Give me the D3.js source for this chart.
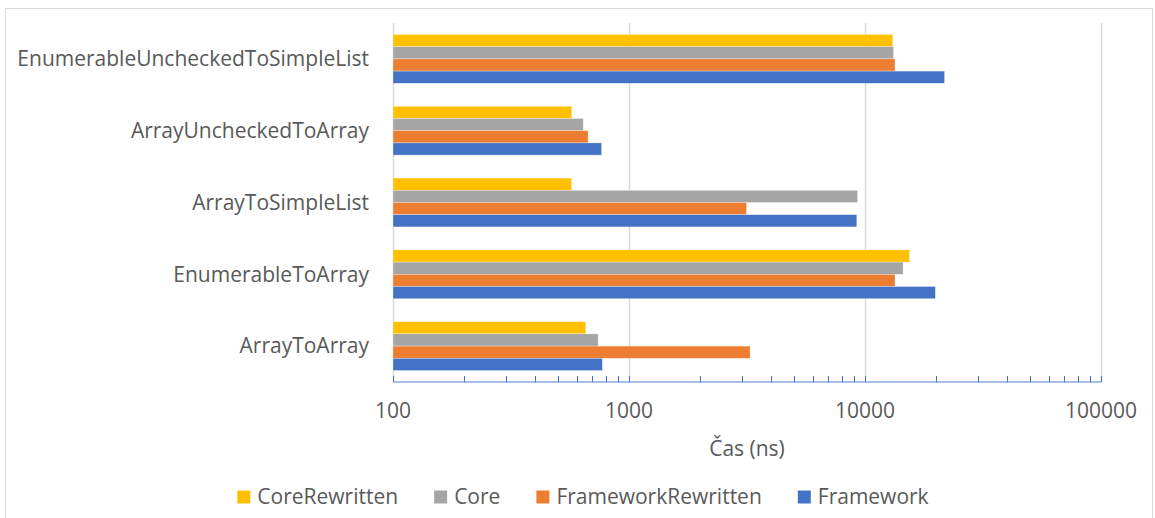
<!DOCTYPE html>
<html>
<head>
<meta charset="utf-8">
<script src="https://cdn.jsdelivr.net/npm/d3@7"></script>
<style>
  body { margin: 0; background: #fff; }
  text { font-family: "Open Sans", "Noto Sans", sans-serif; fill: #595959; }
</style>
</head>
<body>
<div id="chart"></div>
<script>
// chart values
var categories = ["EnumerableUncheckedToSimpleList", "ArrayUncheckedToArray", "ArrayToSimpleList", "EnumerableToArray", "ArrayToArray"];
var seriesNames = ["CoreRewritten", "Core", "FrameworkRewritten", "Framework"];
var seriesColors = ["#FFC000", "#A5A5A5", "#ED7D31", "#4472C4"];
var coreRewritten = [13110, 572, 571, 15450, 656];
var core = [13210, 640, 9300, 14500, 740];
var frameworkRewritten = [13400, 671, 3148, 13400, 3258];
var framework = [21730, 765, 9230, 19860, 771];
var xTicks = [100, 1000, 10000, 100000];
var xTitle = "Čas (ns)";

var svgWidth = 1155;
var svgHeight = 518;
var fontSize = "21px";

var margin = {
  top: 23,
  right: 54,
  bottom: 136,
  left: 393
};

var width = svgWidth - margin.left - margin.right;
var height = svgHeight - margin.top - margin.bottom;

var svg = d3.select("#chart")
  .append("svg")
  .attr("width", svgWidth)
  .attr("height", svgHeight);

// outer chart border
svg.append("rect")
  .attr("x", 5.5)
  .attr("y", 8.5)
  .attr("width", 1147)
  .attr("height", 520)
  .attr("fill", "none")
  .attr("stroke", "#d9d9d9");

var chartGroup = svg.append("g")
  .attr("transform", `translate(${margin.left}, ${margin.top})`);

var allSeries = [coreRewritten, core, frameworkRewritten, framework];

// scales
var xScale = d3.scaleLog()
  .domain([100, 100000])
  .range([0, width]);

var yScale = d3.scaleBand()
  .domain(categories)
  .range([0, height])
  .paddingInner(0.32)
  .paddingOuter(0.16);

var ySub = d3.scaleBand()
  .domain(seriesNames)
  .range([0, yScale.bandwidth()]);

// vertical gridlines
chartGroup.selectAll(".grid")
  .data(xTicks)
  .enter()
  .append("line")
  .attr("x1", d => Math.round(xScale(d)) + 0.5)
  .attr("x2", d => Math.round(xScale(d)) + 0.5)
  .attr("y1", 0)
  .attr("y2", height)
  .attr("stroke", "#d9d9d9")
  .attr("stroke-width", 1.5);

// bars
var groups = chartGroup.selectAll(".cat")
  .data(categories)
  .enter()
  .append("g")
  .attr("transform", d => `translate(0, ${yScale(d)})`);

groups.selectAll("rect")
  .data((d, i) => seriesNames.map((s, j) => ({ series: s, color: seriesColors[j], value: allSeries[j][i] })))
  .enter()
  .append("rect")
  .attr("x", 0)
  .attr("y", d => ySub(d.series))
  .attr("width", d => xScale(d.value))
  .attr("height", ySub.bandwidth())
  .attr("fill", d => d.color)
  .attr("stroke", "#ffffff")
  .attr("stroke-opacity", 0.5)
  .attr("stroke-width", 0.6);

// category labels
chartGroup.selectAll(".catLabel")
  .data(categories)
  .enter()
  .append("text")
  .attr("x", -24)
  .attr("y", d => yScale(d) + yScale.bandwidth() / 2)
  .attr("dy", "0.35em")
  .attr("text-anchor", "end")
  .style("font-size", fontSize)
  .text(d => d);

// bottom axis with minor ticks pointing up
var minorTicks = [];
for (var p = 100; p < 100000; p *= 10) {
  for (var m = 1; m < 10; m++) minorTicks.push(p * m);
}
minorTicks.push(100000);

var axisG = chartGroup.append("g")
  .attr("transform", `translate(0, ${height})`);

axisG.append("line")
  .attr("x1", 0)
  .attr("x2", width)
  .attr("y1", 0)
  .attr("y2", 0)
  .attr("stroke", "#8faadc")
  .attr("stroke-width", 1.5);

axisG.selectAll(".tick")
  .data(minorTicks)
  .enter()
  .append("line")
  .attr("x1", d => Math.round(xScale(d)) + 0.5)
  .attr("x2", d => Math.round(xScale(d)) + 0.5)
  .attr("y1", 0)
  .attr("y2", -6)
  .attr("stroke", "#4472c4")
  .attr("stroke-width", 1);

axisG.selectAll(".tickLabel")
  .data(xTicks)
  .enter()
  .append("text")
  .attr("x", d => xScale(d))
  .attr("y", 29)
  .attr("dy", "0.35em")
  .attr("text-anchor", "middle")
  .style("font-size", fontSize)
  .text(d => d);

axisG.append("text")
  .attr("x", width / 2)
  .attr("y", 67)
  .attr("dy", "0.35em")
  .attr("text-anchor", "middle")
  .style("font-size", fontSize)
  .text(xTitle);

// legend, centred on the chart
var legend = svg.append("g");
var legendY = 497;
var sq = 13;
var gap = 36;
var cursor = 0;
seriesNames.forEach(function(name, i) {
  var item = legend.append("g").attr("transform", `translate(${cursor}, 0)`);
  item.append("rect")
    .attr("x", 0)
    .attr("y", legendY - sq / 2)
    .attr("width", sq)
    .attr("height", sq)
    .attr("fill", seriesColors[i]);
  var t = item.append("text")
    .attr("x", sq + 7)
    .attr("y", legendY)
    .attr("dy", "0.35em")
    .style("font-size", fontSize)
    .text(name);
  cursor += sq + 7 + t.node().getComputedTextLength() + gap;
});
cursor -= gap;
legend.attr("transform", `translate(${583 - cursor / 2}, 0)`);
</script>
</body>
</html>
